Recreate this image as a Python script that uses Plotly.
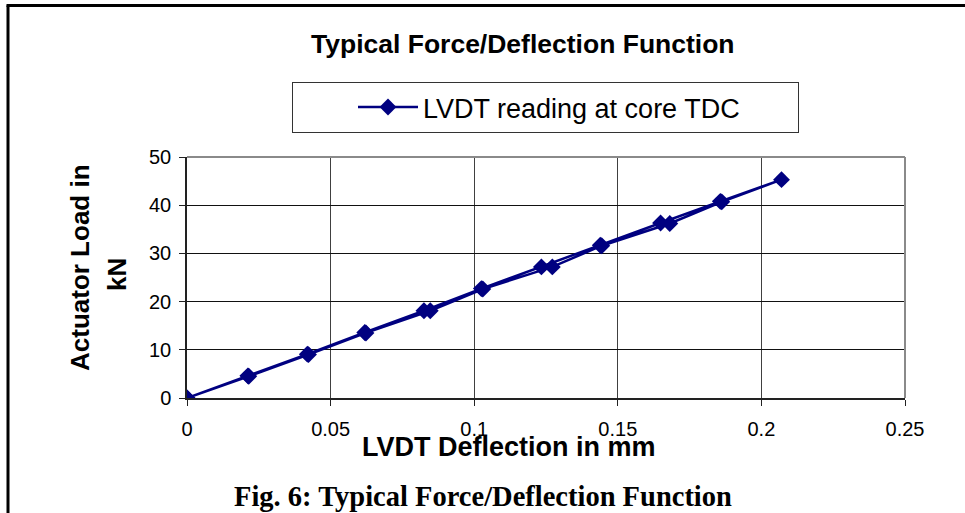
import plotly.graph_objects as go

# Loading path and unloading path (LVDT deflection in mm, actuator load in kN)
load_defl = [0, 0.0212, 0.0419, 0.0619, 0.0825, 0.1025, 0.1234, 0.1439, 0.1649, 0.1857, 0.2070]
load_kn = [0, 4.6, 9.1, 13.6, 18.1, 22.7, 27.2, 31.7, 36.3, 40.8, 45.3]
unload_defl = [0.2070, 0.1862, 0.1681, 0.1444, 0.1272, 0.1030, 0.0847, 0.0623, 0.0423, 0.0215, 0]
unload_kn = [45.3, 40.7, 36.2, 31.6, 27.2, 22.6, 18.1, 13.5, 9.0, 4.5, 0]

x_ticks = [0, 0.05, 0.1, 0.15, 0.2, 0.25]
x_tick_labels = ["0", "0.05", "0.1", "0.15", "0.2", "0.25"]
y_ticks = [0, 10, 20, 30, 40, 50]

NAVY = "#000080"
SANS = "Liberation Sans, Arial, sans-serif"
SERIF = "Liberation Serif, Times New Roman, serif"

# plot area pixel geometry (screen pixels)
L, R, T, B = 187, 905, 157, 398
W, H = 965, 513


def px(x):
    return (x - L) / (R - L)


def py(y):
    return (B - y) / (B - T)


fig = go.Figure()
fig.add_trace(go.Scatter(
    x=load_defl + unload_defl[1:],
    y=load_kn + unload_kn[1:],
    mode="lines+markers",
    name="LVDT reading at core TDC",
    line=dict(color=NAVY, width=2.5),
    marker=dict(symbol="diamond", size=13, color=NAVY),
))

fig.update_layout(
    width=W, height=H,
    margin=dict(l=L, r=W - R, t=T, b=H - B),
    paper_bgcolor="white", plot_bgcolor="white",
    showlegend=True,
    legend=dict(
        orientation="h",
        x=px(292), y=py(82), xanchor="left", yanchor="top",
        bordercolor="#333333", borderwidth=1,
        font=dict(family=SANS, size=27, color="black"),
        itemwidth=60,
        entrywidth=370,
        indentation=60,
        bgcolor="white",
    ),
    xaxis=dict(
        range=[0, 0.25], tickvals=x_ticks, ticktext=x_tick_labels,
        showgrid=True, gridcolor="#404040", gridwidth=1,
        showline=True, linecolor="#222222", linewidth=1.5,
        ticks="outside", ticklen=6, tickcolor="#222222",
        tickfont=dict(family=SANS, size=20, color="black"),
        ticklabelstandoff=6,
        zeroline=False, fixedrange=True,
    ),
    yaxis=dict(
        range=[0, 50], tickvals=y_ticks,
        showgrid=True, gridcolor="#111111", gridwidth=1,
        showline=True, linecolor="#222222", linewidth=1.5,
        ticks="outside", ticklen=6, tickcolor="#222222",
        tickfont=dict(family=SANS, size=20, color="black"),
        ticklabelstandoff=4,
        zeroline=False, fixedrange=True,
    ),
    shapes=[
        # outer frame (left and top edges visible)
        dict(type="line", xref="paper", yref="paper", x0=px(6.5), x1=px(1000), y0=py(5.5), y1=py(5.5),
             line=dict(color="black", width=3)),
        dict(type="line", xref="paper", yref="paper", x0=px(8), x1=px(8), y0=py(5.5), y1=py(560),
             line=dict(color="black", width=3)),
        # plot area top/right border
        dict(type="line", xref="paper", yref="paper", x0=0, x1=1, y0=1, y1=1,
             line=dict(color="#8a8a8a", width=2)),
        dict(type="line", xref="paper", yref="paper", x0=1, x1=1, y0=0, y1=1,
             line=dict(color="#8a8a8a", width=2)),
    ],
    annotations=[
        dict(text="<b>Typical Force/Deflection Function</b>", xref="paper", yref="paper",
             x=px(523), y=py(44), showarrow=False, xanchor="center", yanchor="middle",
             font=dict(family=SANS, size=26.5, color="black")),
        dict(text="<b>LVDT Deflection in mm</b>", xref="paper", yref="paper",
             x=px(509), y=py(447), showarrow=False, xanchor="center", yanchor="middle",
             font=dict(family=SANS, size=27, color="black")),
        dict(text="<b>Actuator Load in</b>", xref="paper", yref="paper",
             x=px(80), y=py(268), showarrow=False, xanchor="center", yanchor="middle",
             textangle=-90, font=dict(family=SANS, size=26, color="black")),
        dict(text="<b>kN</b>", xref="paper", yref="paper",
             x=px(117), y=py(275), showarrow=False, xanchor="center", yanchor="middle",
             textangle=-90, font=dict(family=SANS, size=26, color="black")),
        dict(text="<b>Fig. 6: Typical Force/Deflection Function</b>", xref="paper", yref="paper",
             x=px(483), y=py(497), showarrow=False, xanchor="center", yanchor="middle",
             font=dict(family=SERIF, size=28.5, color="black")),
    ],
)

fig.write_html(
    "out.html",
    config={"displayModeBar": False},
    post_script="document.body.style.margin='0px';document.body.style.overflow='hidden';",
)
